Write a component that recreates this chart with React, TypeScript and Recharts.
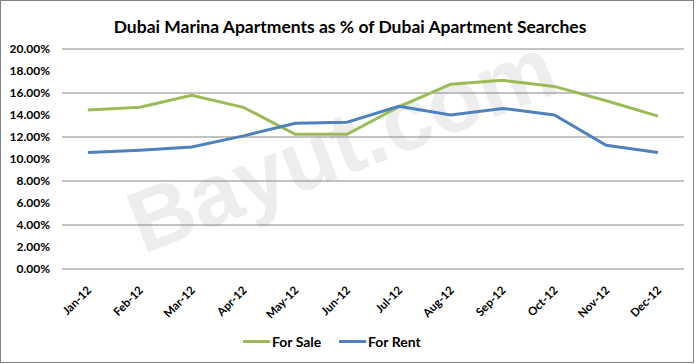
import { CartesianGrid, Legend, Line, LineChart, XAxis, YAxis } from 'recharts';

const months = ['Jan-12', 'Feb-12', 'Mar-12', 'Apr-12', 'May-12', 'Jun-12', 'Jul-12', 'Aug-12', 'Sep-12', 'Oct-12', 'Nov-12', 'Dec-12'];
const forSale = [14.45, 14.7, 15.8, 14.7, 12.25, 12.25, 14.75, 16.8, 17.15, 16.6, 15.3, 13.9];
const forRent = [10.6, 10.8, 11.1, 12.1, 13.25, 13.35, 14.8, 14.0, 14.6, 14.0, 11.25, 10.6];
const yTicks = [0, 2, 4, 6, 8, 10, 12, 14, 16, 18, 20];

const C = { sale: '#9BBB59', rent: '#4F81BD', grid: '#868686', text: '#000' };
const FONT = 'Lato, "Open Sans", sans-serif';

const data = months.map((m, i) => ({ month: m, sale: forSale[i], rent: forRent[i] }));

function MonthTick({ x, y, payload }: any) {
  return (
    <text
      x={x + 4}
      y={y + 14}
      transform={`rotate(-45 ${x + 4} ${y + 14})`}
      textAnchor="end"
      fontFamily={FONT}
      fontWeight={700}
      fontSize={11.5}
      fill={C.text}
    >
      {payload.value}
    </text>
  );
}

function LegendBox() {
  const item = (left: number, color: string, label: string) => (
    <div style={{ position: 'absolute', left, top: 0, display: 'flex', alignItems: 'center', height: 20 }}>
      <div style={{ width: 27, height: 3, background: color }} />
      <span style={{ marginLeft: 2, fontFamily: FONT, fontWeight: 700, fontSize: 14, color: C.text }}>{label}</span>
    </div>
  );
  return (
    <div style={{ position: 'relative', width: 700, height: 40 }}>
      <div style={{ position: 'absolute', left: 0, top: 7, width: 700 }}>
        {item(243, C.sale, 'For Sale')}
        {item(339, C.rent, 'For Rent')}
      </div>
    </div>
  );
}

export default function App() {
  return (
    <div style={{ position: 'absolute', left: 0, top: 0, width: 700, height: 364, background: '#fff', overflow: 'hidden' }}>
      <div
        style={{
          position: 'absolute', left: 0, top: 0, width: 692, height: 361,
          border: '1px solid #808080',
        }}
      />
      {/* watermark */}
      <div
        style={{
          position: 'absolute', left: 140, top: 247 - 88 * 0.75, transformOrigin: '0 75%',
          transform: 'rotate(-21.3deg)', fontFamily: '"Liberation Sans", Arial, sans-serif',
          fontWeight: 700, fontSize: 88, lineHeight: 1, color: '#ededed', whiteSpace: 'nowrap',
        }}
      >
        Bayut.com
      </div>
      <div
        style={{
          position: 'absolute', left: 0, top: 16, width: 700, textAlign: 'center',
          fontFamily: FONT, fontWeight: 700, fontSize: 17.5, color: C.text,
        }}
      >
        Dubai Marina Apartments as % of Dubai Apartment Searches
      </div>
      <div style={{ position: 'absolute', left: 0, top: 0 }}>
        <LineChart width={700} height={364} data={data} margin={{ top: 49, right: 16, bottom: 0, left: 0 }}>
          <CartesianGrid vertical={false} stroke={C.grid} strokeWidth={1} />
          <XAxis
            dataKey="month"
            height={55}
            axisLine={false}
            tickLine={false}
            interval={0}
            padding={{ left: 26, right: 26 }}
            tick={<MonthTick />}
          />
          <YAxis
            width={62}
            domain={[0, 20]}
            ticks={yTicks}
            axisLine={false}
            tickLine={false}
            tickFormatter={(v: number) => `${v.toFixed(2)}%`}
            tick={{ fontFamily: FONT, fontWeight: 700, fontSize: 12, fill: C.text, dx: -4 }}
          />
          <Legend verticalAlign="bottom" height={40} content={() => <LegendBox />} />
          <Line dataKey="sale" name="For Sale" stroke={C.sale} strokeWidth={3} dot={false} isAnimationActive={false} />
          <Line dataKey="rent" name="For Rent" stroke={C.rent} strokeWidth={3} dot={false} isAnimationActive={false} />
        </LineChart>
      </div>
    </div>
  );
}
